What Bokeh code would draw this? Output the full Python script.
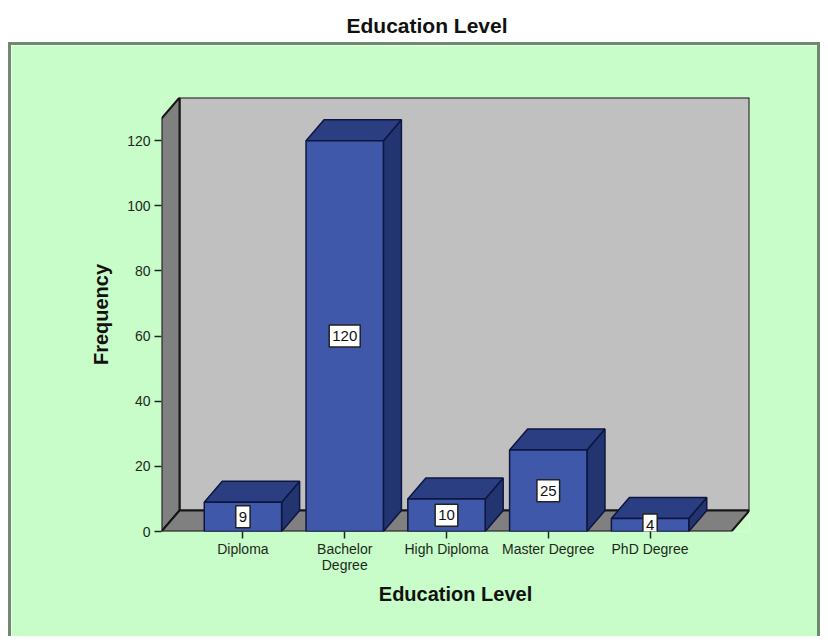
from bokeh.plotting import figure
from bokeh.models import Range1d, FixedTicker, ColumnDataSource, Div
from bokeh.layouts import column
from bokeh.core.properties import value
from bokeh.embed import file_html
from bokeh.resources import INLINE

# ---- data ----
categories = ["Diploma", "Bachelor\nDegree", "High Diploma", "Master Degree", "PhD Degree"]
frequencies = [9, 120, 10, 25, 4]
y_ticks = [0, 20, 40, 60, 80, 100, 120]
chart_title = "Education Level"
x_title = "Education Level"
y_title = "Frequency"

# ---- style ----
GREEN = "#c8fcc8"
BORDER = "#6e8a6e"
WALL_BACK = "#c0c0c0"
WALL_SIDE = "#808080"
EDGE = "#161616"
BAR_FRONT = "#3f58a9"
BAR_TOP = "#2b3e82"
BAR_SIDE = "#233570"
BAR_EDGE = "#0e1640"
TICK_COL = "#1c2a1c"
FONT = "Liberation Sans"

x_lo, x_hi = 0.2, 5.8
dx, dy = 0.177, 6.45
wall_top = 126.8
bw = 0.76

title_div = Div(
    text=f'<div style="width:812px;text-align:center;font-family:{FONT},Arial;'
         f'font-size:21px;font-weight:bold;color:#111;padding-top:6px;padding-left:16px;box-sizing:border-box">{chart_title}</div>',
    width=812, height=32)

p = figure(width=812, height=594, output_backend="svg", toolbar_location=None,
           x_range=Range1d(x_lo, x_hi + dx), y_range=Range1d(0, wall_top + dy),
           min_border_left=150, min_border_right=74, min_border_top=52, min_border_bottom=108,
           styles={"border-top": f"3px solid {BORDER}", "border-left": f"3px solid {BORDER}",
                   "border-right": f"3px solid {BORDER}"})
p.background_fill_color = GREEN
p.border_fill_color = GREEN
p.outline_line_color = None
p.grid.visible = False

# walls
walls_x = [
    [x_lo + dx, x_hi + dx, x_hi + dx, x_lo + dx],
    [x_lo, x_lo + dx, x_lo + dx, x_lo],
    [x_lo, x_hi, x_hi + dx, x_lo + dx],
]
walls_y = [
    [dy, dy, wall_top + dy, wall_top + dy],
    [0, dy, wall_top + dy, wall_top],
    [0, 0, dy, dy],
]
p.patches(walls_x, walls_y, fill_color=[WALL_BACK, WALL_SIDE, WALL_SIDE],
          line_color=EDGE, line_width=2)

# bars
xs_front, ys_front, xs_top, ys_top, xs_side, ys_side = [], [], [], [], [], []
for i, v in enumerate(frequencies):
    c = i + 1
    l, r = c - bw / 2, c + bw / 2
    xs_front.append([l, r, r, l]); ys_front.append([0, 0, v, v])
    xs_top.append([l, r, r + dx, l + dx]); ys_top.append([v, v, v + dy, v + dy])
    xs_side.append([r, r + dx, r + dx, r]); ys_side.append([0, dy, v + dy, v])
p.patches(xs_side, ys_side, fill_color=BAR_SIDE, line_color=BAR_EDGE, line_width=1.5)
p.patches(xs_top, ys_top, fill_color=BAR_TOP, line_color=BAR_EDGE, line_width=1.5)
p.patches(xs_front, ys_front, fill_color=BAR_FRONT, line_color=BAR_EDGE, line_width=1.5)

src = ColumnDataSource(dict(x=[i + 1 for i in range(len(frequencies))],
                            y=[v / 2 for v in frequencies],
                            t=[str(v) for v in frequencies]))
p.text(x="x", y="y", text="t", source=src, text_align="center",
       text_baseline="middle", text_font=value(FONT), text_font_size="15px",
       text_color="#111111", background_fill_color="white",
       border_line_color="#222222", border_line_width=1.5,
       padding=dict(left=3, right=3, top=6, bottom=6))

# axes
p.xaxis.ticker = FixedTicker(ticks=[i + 1 for i in range(len(categories))])
p.xaxis.major_label_overrides = {i + 1: c for i, c in enumerate(categories)}
p.yaxis.ticker = FixedTicker(ticks=y_ticks)
for ax in (p.xaxis[0], p.yaxis[0]):
    ax.axis_line_color = None
    ax.major_tick_line_color = TICK_COL
    ax.major_tick_line_width = 1.5
    ax.major_tick_out = 7
    ax.major_tick_in = 0
    ax.minor_tick_line_color = None
    ax.major_label_text_font = FONT
    ax.major_label_text_font_size = "14px"
    ax.major_label_text_color = TICK_COL
    ax.axis_label_text_font = FONT
    ax.axis_label_text_font_size = "20px"
    ax.axis_label_text_font_style = "bold"
    ax.axis_label_text_color = "#111111"
p.xaxis.major_label_text_line_height = 1.0
p.xaxis.axis_label = x_title
p.yaxis.axis_label = y_title
p.xaxis.major_label_standoff = 2
p.yaxis.major_label_standoff = 4
p.xaxis.axis_label_standoff = 7
p.yaxis.axis_label_standoff = 12

layout = column(title_div, p, spacing=0, styles={"margin-left": "8px"})
open("out.html", "w").write(file_html(layout, INLINE))
